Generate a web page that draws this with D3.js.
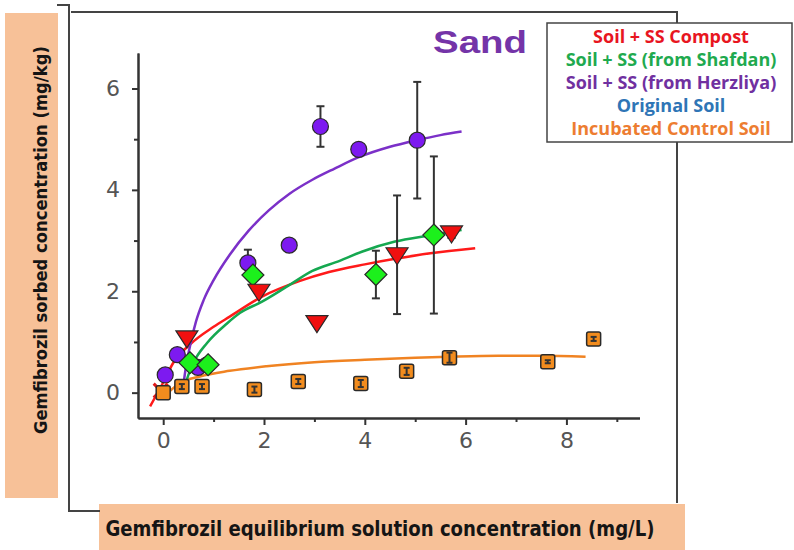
<!DOCTYPE html>
<html>
<head>
<meta charset="utf-8">
<script src="https://cdn.jsdelivr.net/npm/d3@7"></script>
<style>
  body { margin: 0; background: #fff; }
  svg { display: block; }
</style>
</head>
<body>
<div id="chart"></div>
<script>
// tick labels
const xTicks = [0, 2, 4, 6, 8]
const xMinor = [1, 3, 5, 7, 9]
const yTicks = [0, 2, 4, 6]
const yMinor = [1, 3, 5]

// Soil + SS Compost (red triangles)
const compostX = [0.47, 1.9, 3.05, 4.64, 5.72]
const compostY = [1.08, 2.0, 1.38, 2.72, 3.15]
const compostErr = [0, 0, 0, 1.17, 0.1]
const compostFitX = [-0.26, 0.0, 0.2, 0.53, 1.0, 1.32, 1.97, 2.7, 3.29, 4.0, 4.6, 5.3, 6.19]
const compostFitY = [-0.27, 0.2, 0.59, 0.95, 1.3, 1.5, 1.9, 2.2, 2.38, 2.53, 2.64, 2.75, 2.85]

// Soil + SS (from Shafdan) (green diamonds)
const shafdanX = [0.53, 0.89, 1.78, 4.22, 5.37]
const shafdanY = [0.59, 0.55, 2.32, 2.33, 3.11]
const shafdanErr = [0, 0, 0, 0.47, 1.55]
const shafdanFitX = [0.4, 0.5, 0.6, 0.87, 1.26, 1.52, 1.97, 2.5, 2.96, 3.5, 3.94, 4.6, 5.27, 5.92]
const shafdanFitY = [0.02, 0.35, 0.59, 0.98, 1.36, 1.57, 1.8, 2.12, 2.4, 2.6, 2.78, 2.98, 3.1, 3.21]

// Soil + SS (from Herzliya) (purple circles)
const herzliyaX = [0.04, 0.28, 0.69, 0.87, 1.68, 2.5, 3.12, 3.88, 5.04]
const herzliyaY = [0.35, 0.75, 0.5, 0.55, 2.56, 2.91, 5.25, 4.8, 4.98]
const herzliyaErr = [0, 0, 0, 0, 0.26, 0, 0.4, 0, 1.15]
const herzliyaFitX = [0.38, 0.45, 0.55, 0.65, 0.8, 1.0, 1.32, 1.7, 2.1, 2.5, 2.96, 3.4, 3.87, 4.5, 5.03, 5.5, 5.92]
const herzliyaFitY = [0.0, 0.5, 1.0, 1.4, 1.82, 2.22, 2.72, 3.2, 3.6, 3.92, 4.2, 4.42, 4.64, 4.85, 4.98, 5.08, 5.15]

// Original Soil (cross at the origin)
const originalX = [-0.05]
const originalY = [0.04]

// Incubated Control Soil (orange squares)
const controlX = [0.0, 0.37, 0.77, 1.81, 2.68, 3.92, 4.83, 5.68, 7.63, 8.54]
const controlY = [0.0, 0.12, 0.12, 0.06, 0.22, 0.18, 0.42, 0.69, 0.61, 1.06]
const controlErr = [0, 0.05, 0.05, 0.06, 0.05, 0.07, 0.07, 0.1, 0.03, 0.04]
const controlFitX = [0.1, 0.3, 0.73, 1.32, 2.05, 3.0, 4.0, 5.0, 5.66, 6.65, 7.5, 8.38]
const controlFitY = [0.0, 0.17, 0.32, 0.43, 0.52, 0.6, 0.65, 0.69, 0.71, 0.73, 0.73, 0.71]

const legendItems = ['Soil + SS Compost', 'Soil + SS (from Shafdan)', 'Soil + SS (from Herzliya)', 'Original Soil', 'Incubated Control Soil']
const legendColors = ['#e8161f', '#1faa4f', '#7030a0', '#2e75b6', '#ed7d31']

const width = 794
const height = 550

const svg = d3.select('#chart').append('svg')
  .attr('width', width)
  .attr('height', height)

const x = d3.scaleLinear().domain([-0.5, 9.45]).range([138, 639.5])
const y = d3.scaleLinear().domain([-0.5, 6.7]).range([418, 53])

const zip = (xs, ys, es) => xs.map((v, i) => ({ x: v, y: ys[i], e: es ? es[i] : 0 }))

// axis label boxes
svg.append('rect')
  .attr('x', 5).attr('y', 13).attr('width', 53).attr('height', 485)
  .attr('fill', '#f7c198')
svg.append('rect')
  .attr('x', 99).attr('y', 504).attr('width', 586).attr('height', 46)
  .attr('fill', '#f7c198')

// frame
svg.append('path')
  .attr('d', 'M57,5 H69 V511 H100')
  .attr('fill', 'none').attr('stroke', '#444').attr('stroke-width', 2)
svg.append('path')
  .attr('d', 'M71,12 H677 V503')
  .attr('fill', 'none').attr('stroke', '#444').attr('stroke-width', 2)

// y label: font size picked so the text is as long as in the reference
const yLabel = svg.append('text')
  .attr('transform', 'translate(47, 240) rotate(-90)')
  .attr('text-anchor', 'middle')
  .attr('font-family', '"DejaVu Sans Condensed", "DejaVu Sans", sans-serif')
  .attr('font-weight', 'bold')
  .attr('font-size', 22)
  .attr('fill', '#151515')
  .text('Gemfibrozil sorbed concentration (mg/kg)')
let ySize = 22
while (yLabel.node().getComputedTextLength() > 390 && ySize > 12) {
  ySize -= 0.25
  yLabel.attr('font-size', ySize)
}

svg.append('text')
  .attr('x', 380).attr('y', 536)
  .attr('text-anchor', 'middle')
  .attr('font-family', '"DejaVu Sans Condensed", "DejaVu Sans", sans-serif')
  .attr('font-weight', 'bold')
  .attr('font-size', 22)
  .attr('fill', '#151515')
  .attr('textLength', 549)
  .attr('lengthAdjust', 'spacingAndGlyphs')
  .text('Gemfibrozil equilibrium solution concentration (mg/L)')

// axes
function styleAxis(g) {
  g.select('.domain').attr('stroke', '#333').attr('stroke-width', 2)
  g.selectAll('.tick line').attr('stroke', '#333').attr('stroke-width', 2)
  g.selectAll('.tick text')
    .attr('fill', '#555')
    .attr('font-family', '"DejaVu Sans", sans-serif')
    .attr('font-size', 22)
}

svg.append('g')
  .attr('transform', `translate(0, ${y.range()[0]})`)
  .call(d3.axisBottom(x).tickValues(xMinor).tickFormat('').tickSize(4).tickSizeOuter(0))
  .call(styleAxis)
svg.append('g')
  .attr('transform', `translate(0, ${y.range()[0]})`)
  .call(d3.axisBottom(x).tickValues(xTicks).tickSize(7).tickPadding(7).tickSizeOuter(0))
  .call(styleAxis)
svg.append('g')
  .attr('transform', `translate(${x.range()[0]}, 0)`)
  .call(d3.axisLeft(y).tickValues(yMinor).tickFormat('').tickSize(4).tickSizeOuter(0))
  .call(styleAxis)
svg.append('g')
  .attr('transform', `translate(${x.range()[0]}, 0)`)
  .call(d3.axisLeft(y).tickValues(yTicks).tickSize(6).tickPadding(12).tickSizeOuter(0))
  .call(styleAxis)

// fitted curves
const line = d3.line().x(d => x(d.x)).y(d => y(d.y)).curve(d3.curveMonotoneX)
const fits = [
  { data: zip(controlFitX, controlFitY), color: '#f08322' },
  { data: zip(compostFitX, compostFitY), color: '#ff1a1a' },
  { data: zip(shafdanFitX, shafdanFitY), color: '#15a850' },
  { data: zip(herzliyaFitX, herzliyaFitY), color: '#7b30c8' },
]
for (const f of fits) {
  svg.append('path')
    .datum(f.data)
    .attr('d', line)
    .attr('fill', 'none')
    .attr('stroke', f.color)
    .attr('stroke-width', 2.5)
}

// error bars
function errorBars(data, cap) {
  const g = svg.append('g').attr('stroke', '#333').attr('stroke-width', 2)
  const withErr = data.filter(d => d.e > 0)
  g.selectAll('line.v').data(withErr).enter().append('line')
    .attr('x1', d => x(d.x)).attr('x2', d => x(d.x))
    .attr('y1', d => y(d.y - d.e)).attr('y2', d => y(d.y + d.e))
  g.selectAll('line.t').data(withErr).enter().append('line')
    .attr('x1', d => x(d.x) - cap).attr('x2', d => x(d.x) + cap)
    .attr('y1', d => y(d.y + d.e)).attr('y2', d => y(d.y + d.e))
  g.selectAll('line.b').data(withErr).enter().append('line')
    .attr('x1', d => x(d.x) - cap).attr('x2', d => x(d.x) + cap)
    .attr('y1', d => y(d.y - d.e)).attr('y2', d => y(d.y - d.e))
}

const compost = zip(compostX, compostY, compostErr)
const shafdan = zip(shafdanX, shafdanY, shafdanErr)
const herzliya = zip(herzliyaX, herzliyaY, herzliyaErr)
const control = zip(controlX, controlY, controlErr)
const original = zip(originalX, originalY)

errorBars(herzliya, 4)
errorBars(shafdan, 4)
errorBars(compost, 4)

// markers
svg.append('g').selectAll('circle').data(herzliya).enter().append('circle')
  .attr('cx', d => x(d.x)).attr('cy', d => y(d.y)).attr('r', 8)
  .attr('fill', '#7d1af0').attr('stroke', '#2a2a2a').attr('stroke-width', 1.2)

svg.append('g').selectAll('path').data(shafdan).enter().append('path')
  .attr('transform', d => `translate(${x(d.x)}, ${y(d.y)})`)
  .attr('d', 'M0,-11 L11,0 L0,11 L-11,0 Z')
  .attr('fill', '#1cf01c').attr('stroke', '#2a2a2a').attr('stroke-width', 1.2)

svg.append('g').selectAll('path').data(compost).enter().append('path')
  .attr('transform', d => `translate(${x(d.x)}, ${y(d.y)})`)
  .attr('d', 'M-11,-7 L11,-7 L0,10 Z')
  .attr('fill', '#f01010').attr('stroke', '#2a2a2a').attr('stroke-width', 1.2)

svg.append('g').selectAll('path').data(original).enter().append('path')
  .attr('transform', d => `translate(${x(d.x)}, ${y(d.y)})`)
  .attr('d', 'M-7,-7 L7,7 M-7,7 L7,-7')
  .attr('fill', 'none').attr('stroke', '#e01818').attr('stroke-width', 3)

svg.append('g').selectAll('rect').data(control).enter().append('rect')
  .attr('x', d => x(d.x) - 7).attr('y', d => y(d.y) - 7)
  .attr('width', 14).attr('height', 14).attr('rx', 2)
  .attr('fill', '#f28c1e').attr('stroke', '#2a2a2a').attr('stroke-width', 1.5)

errorBars(control, 3)

// title
svg.append('text')
  .attr('x', 480).attr('y', 53)
  .attr('text-anchor', 'middle')
  .attr('font-family', '"Liberation Sans", Arial, sans-serif')
  .attr('font-weight', 'bold')
  .attr('font-size', 32)
  .attr('fill', '#7434a8')
  .attr('textLength', 94)
  .attr('lengthAdjust', 'spacingAndGlyphs')
  .text('Sand')

// legend box
svg.append('rect')
  .attr('x', 547).attr('y', 23).attr('width', 245).attr('height', 119)
  .attr('fill', '#fff').attr('stroke', '#444').attr('stroke-width', 1.5)

svg.append('g').selectAll('text').data(legendItems).enter().append('text')
  .attr('x', 671)
  .attr('y', (d, i) => 43 + i * 23)
  .attr('text-anchor', 'middle')
  .attr('font-family', '"Open Sans", sans-serif')
  .attr('font-weight', 'bold')
  .attr('font-size', 18)
  .attr('fill', (d, i) => legendColors[i])
  .text(d => d)
</script>
</body>
</html>
